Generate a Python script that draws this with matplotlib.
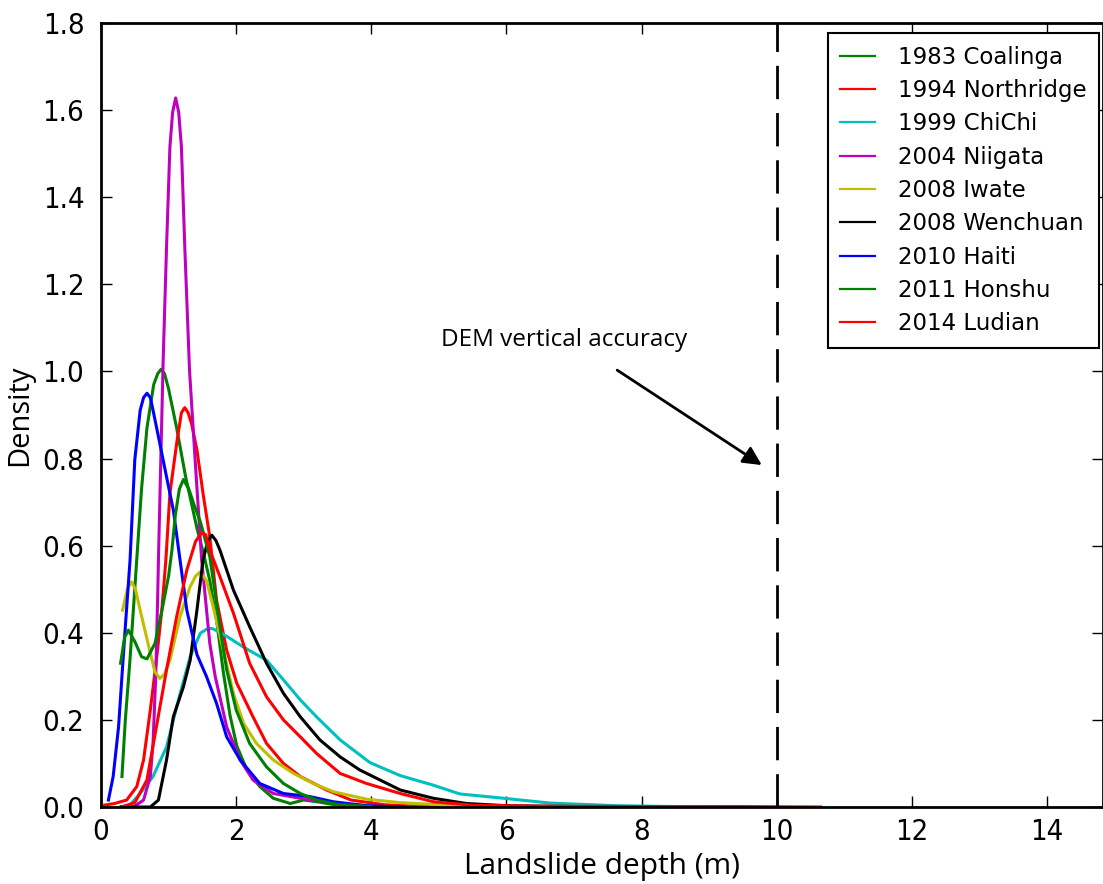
import matplotlib
matplotlib.use("Agg")
import matplotlib.pyplot as plt

# ---- data ----
labels = ["1983 Coalinga", "1994 Northridge", "1999 ChiChi", "2004 Niigata",
          "2008 Iwate", "2008 Wenchuan", "2010 Haiti", "2011 Honshu", "2014 Ludian"]
colors = ["g", "r", "c", "m", "y", "k", "b", "g", "r"]

coalinga_x = [0.31, 0.36, 0.43, 0.53, 0.60, 0.68, 0.78, 0.84, 0.89, 0.94, 1.00, 1.12, 1.25, 1.42,
              1.52, 1.61, 1.71, 1.81, 1.91, 2.01, 2.16, 2.35, 2.55, 2.80, 3.00, 3.20, 3.50, 4.00]
coalinga_y = [0.07, 0.20, 0.34, 0.57, 0.73, 0.87, 0.97, 0.995, 1.005, 0.995, 0.96, 0.87, 0.76,
              0.64, 0.58, 0.52, 0.43, 0.31, 0.21, 0.14, 0.085, 0.047, 0.02, 0.008, 0.016, 0.012,
              0.004, 0.0]

northridge_x = [0.0, 0.2, 0.38, 0.53, 0.63, 0.73, 0.82, 0.90, 0.96, 1.02, 1.12, 1.19, 1.24, 1.29,
                1.34, 1.42, 1.51, 1.61, 1.71, 1.86, 2.01, 2.25, 2.45, 2.70, 2.95, 3.34, 3.70,
                4.20, 5.00]
northridge_y = [0.003, 0.008, 0.016, 0.047, 0.108, 0.223, 0.337, 0.452, 0.567, 0.72, 0.835, 0.905,
                0.917, 0.905, 0.88, 0.82, 0.72, 0.62, 0.475, 0.36, 0.284, 0.207, 0.146, 0.10,
                0.07, 0.039, 0.016, 0.005, 0.0]

chichi_x = [0.30, 0.43, 0.58, 0.77, 0.97, 1.17, 1.32, 1.47, 1.56, 1.64, 1.75, 1.91, 2.10, 2.45,
            2.70, 2.95, 3.19, 3.54, 3.98, 4.43, 4.92, 5.31, 5.90, 6.65, 7.63, 8.50, 9.50]
chichi_y = [0.0, 0.005, 0.031, 0.07, 0.138, 0.26, 0.345, 0.399, 0.408, 0.41, 0.402, 0.387, 0.368,
            0.337, 0.292, 0.246, 0.207, 0.154, 0.102, 0.072, 0.05, 0.03, 0.021, 0.009, 0.003,
            0.001, 0.0]

niigata_x = [0.30, 0.48, 0.63, 0.73, 0.77, 0.81, 0.84, 0.85, 0.92, 0.97, 1.02, 1.06, 1.105, 1.15,
             1.19, 1.24, 1.31, 1.40, 1.49, 1.61, 1.69, 1.86, 2.06, 2.25, 2.55, 2.95, 3.50, 4.00]
niigata_y = [0.0, 0.0, 0.016, 0.07, 0.146, 0.30, 0.49, 0.567, 1.026, 1.286, 1.516, 1.595, 1.628,
             1.595, 1.516, 1.286, 1.003, 0.78, 0.567, 0.376, 0.30, 0.184, 0.108, 0.062, 0.031,
             0.02, 0.008, 0.002]

iwate_x = [0.32, 0.39, 0.45, 0.51, 0.58, 0.73, 0.80, 0.87, 0.94, 1.02, 1.17, 1.32, 1.40, 1.47,
           1.56, 1.66, 1.81, 1.96, 2.11, 2.30, 2.55, 2.85, 3.14, 3.44, 3.93, 4.43, 4.92, 5.50, 6.50]
iwate_y = [0.452, 0.50, 0.517, 0.50, 0.452, 0.353, 0.31, 0.295, 0.305, 0.337, 0.437, 0.506, 0.53,
           0.54, 0.52, 0.46, 0.36, 0.261, 0.192, 0.146, 0.108, 0.077, 0.054, 0.035, 0.018, 0.01,
           0.006, 0.003, 0.0]

wenchuan_x = [0.30, 0.73, 0.85, 0.97, 1.07, 1.22, 1.32, 1.42, 1.51, 1.58, 1.64, 1.70, 1.76, 1.96,
              2.20, 2.45, 2.70, 2.95, 3.24, 3.54, 3.83, 4.13, 4.43, 4.92, 5.41, 6.00, 7.00, 8.00]
wenchuan_y = [0.0, 0.0, 0.016, 0.108, 0.207, 0.276, 0.337, 0.452, 0.567, 0.61, 0.624, 0.612, 0.59,
              0.498, 0.414, 0.33, 0.261, 0.207, 0.154, 0.115, 0.085, 0.062, 0.039, 0.02, 0.008,
              0.003, 0.001, 0.0]

haiti_x = [0.11, 0.18, 0.26, 0.31, 0.36, 0.43, 0.50, 0.58, 0.63, 0.68, 0.73, 0.77, 0.87, 0.97,
           1.07, 1.17, 1.27, 1.42, 1.56, 1.71, 1.86, 2.06, 2.35, 2.70, 3.09, 3.44, 3.93, 4.50]
haiti_y = [0.016, 0.07, 0.184, 0.30, 0.414, 0.567, 0.797, 0.911, 0.94, 0.95, 0.94, 0.911, 0.835,
           0.758, 0.682, 0.567, 0.452, 0.35, 0.30, 0.238, 0.161, 0.108, 0.054, 0.031, 0.024,
           0.012, 0.003, 0.0]

honshu_x = [0.29, 0.35, 0.405, 0.50, 0.60, 0.68, 0.80, 0.90, 1.00, 1.05, 1.10, 1.16, 1.22, 1.30,
            1.37, 1.47, 1.61, 1.68, 1.76, 1.86, 2.00, 2.20, 2.45, 2.70, 2.95, 3.19, 3.50, 4.00]
honshu_y = [0.33, 0.39, 0.406, 0.38, 0.345, 0.34, 0.376, 0.45, 0.53, 0.59, 0.67, 0.73, 0.752, 0.73,
            0.697, 0.655, 0.575, 0.50, 0.414, 0.315, 0.223, 0.146, 0.092, 0.054, 0.031, 0.016,
            0.006, 0.001]

ludian_x = [0.30, 0.50, 0.68, 0.82, 0.97, 1.12, 1.27, 1.40, 1.49, 1.55, 1.61, 1.76, 1.96, 2.20,
            2.45, 2.70, 2.95, 3.19, 3.54, 3.93, 4.43, 4.92, 5.50, 6.50, 8.00, 9.50, 10.65]
ludian_y = [0.0, 0.01, 0.062, 0.184, 0.315, 0.437, 0.544, 0.61, 0.63, 0.625, 0.59, 0.529, 0.445,
            0.33, 0.253, 0.20, 0.161, 0.123, 0.077, 0.054, 0.031, 0.012, 0.004, 0.002, 0.001,
            0.001, 0.0]

series_x = [coalinga_x, northridge_x, chichi_x, niigata_x, iwate_x, wenchuan_x, haiti_x,
            honshu_x, ludian_x]
series_y = [coalinga_y, northridge_y, chichi_y, niigata_y, iwate_y, wenchuan_y, haiti_y,
            honshu_y, ludian_y]

dem_accuracy = 10
x_ticks = [0, 2, 4, 6, 8, 10, 12, 14]
y_ticks = [0.0, 0.2, 0.4, 0.6, 0.8, 1.0, 1.2, 1.4, 1.6, 1.8]

# ---- figure ----
fig = plt.figure(figsize=(11.03, 8.84), dpi=100)
ax = fig.add_axes([101 / 1103, 1 - 807 / 884, 1002 / 1103, (807 - 23) / 884])

for xs, ys, c, lab in zip(series_x, series_y, colors, labels):
    ax.plot(xs, ys, color=c, lw=2.2, label=lab)

ax.axvline(dem_accuracy, color="k", lw=2, dashes=(12, 5))

ax.set_xlim(0, 14.83)
ax.set_ylim(0, 1.8)
ax.set_xticks(x_ticks)
ax.set_yticks(y_ticks)
ax.set_yticklabels([f"{v:.1f}" for v in y_ticks])
ax.tick_params(direction="in", length=8, width=1, top=True, right=True, labelsize=21)
ax.tick_params(axis="y", pad=12)
ax.tick_params(axis="x", pad=8)
for lbl in ax.get_xticklabels() + ax.get_yticklabels():
    lbl.set_fontfamily("DejaVu Sans")
    lbl.set_fontstretch("condensed")
for s in ax.spines.values():
    s.set_linewidth(2)

ax.set_xlabel("Landslide depth (m)", fontsize=21.5, family="Open Sans", labelpad=4)
ax.set_ylabel("Density", fontsize=21, family="Open Sans", labelpad=6)

ax.text(5.03, 1.072, "DEM vertical accuracy", fontsize=17.5, family="Open Sans",
        ha="left", va="center")
ax.annotate("", xy=(9.78, 0.785), xytext=(7.64, 1.003),
            arrowprops=dict(arrowstyle="-|>", color="k", lw=2, mutation_scale=28,
                            shrinkA=0, shrinkB=0))

leg = ax.legend(loc="upper right", fontsize=16.5, handlelength=1.5, labelspacing=0.45,
                handletextpad=1.0, fancybox=False, framealpha=1, edgecolor="k",
                borderpad=0.55, borderaxespad=0, bbox_to_anchor=(0.996, 0.987))
leg.get_frame().set_linewidth(1.5)
for h in leg.get_lines():
    h.set_linewidth(1.6)

fig.savefig("out.png", dpi=100)
